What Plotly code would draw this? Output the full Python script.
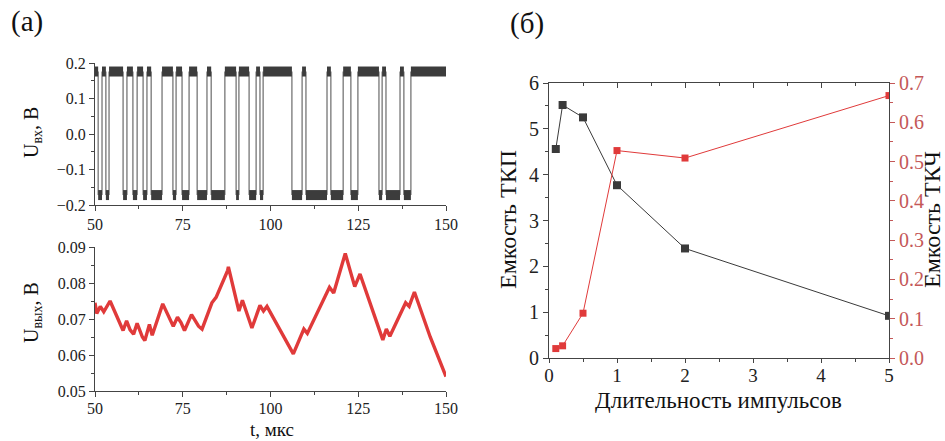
import plotly.graph_objects as go

# ---------------- data ----------------
# (a) top: telegraph input signal, switching instants (us), starts in high state
switch_t = [50, 50.9, 52.0, 53.1, 54.0, 58.0, 59.1, 60.8, 62.0, 63.7, 64.8, 66.0,
            69.1, 72.2, 73.1, 74.8, 76.8, 79.1, 81.9, 83.1, 87.0, 90.2, 91.0, 93.9,
            95.9, 97.0, 97.9, 106.1, 109.0, 110.1, 116.1, 117.2, 120.7, 122.9, 124.9,
            130.9, 131.8, 132.9, 136.9, 138.0, 140.0, 150]
level_hi = 0.176
level_lo = -0.172

# (a) bottom: output voltage envelope
out_t = [50, 50.5, 51.5, 52.5, 54.3, 55, 58, 59, 60, 61, 62, 63.5, 64.2, 65.5, 66.3,
         69.3, 72.3, 73.5, 74.5, 75.5, 77.5, 79.5, 80.5, 83.3, 84.5, 87.8, 88, 91, 92,
         94.7, 97, 98, 99, 106.5, 109.5, 110.5, 116.8, 118, 121.3, 124, 125.5, 132,
         133, 134, 138.5, 139.5, 141, 145.5, 150]
out_v = [0.0745, 0.0715, 0.0735, 0.0720, 0.0750, 0.0735, 0.0668, 0.0695, 0.0670, 0.0658,
         0.0688, 0.0650, 0.0640, 0.0685, 0.0655, 0.0742, 0.0680, 0.0705, 0.0690, 0.0668,
         0.0712, 0.0680, 0.0672, 0.0745, 0.0760, 0.0835, 0.0845, 0.0722, 0.0752, 0.0675,
         0.0738, 0.0722, 0.0735, 0.0603, 0.0672, 0.0660, 0.0788, 0.0772, 0.0882, 0.0790,
         0.0825, 0.0642, 0.0672, 0.0652, 0.0745, 0.0735, 0.0775, 0.0650, 0.0540]

# (б)
pulse_len = [0.1, 0.2, 0.5, 1, 2, 5]
cap_tkp = [4.56, 5.52, 5.25, 3.77, 2.39, 0.92]
cap_tkch = [0.024, 0.031, 0.114, 0.528, 0.509, 0.668]

# ---------------- build telegraph traces ----------------
hx, hy, vx, vy = [], [], [], []
for i in range(len(switch_t) - 1):
    lvl = level_hi if i % 2 == 0 else level_lo
    hx += [switch_t[i], switch_t[i + 1], None]
    hy += [lvl, lvl, None]
    if i > 0:
        vx += [switch_t[i], switch_t[i], None]
        vy += [level_hi, level_lo, None]

SERIF = "Liberation Serif"
AX = "#444444"
RED = "#e03a3a"
RED_T = "#c45858"

fig = go.Figure()
fig.add_trace(go.Scatter(x=vx, y=vy, mode="lines", line=dict(color="#6a6a6a", width=1.2),
                         xaxis="x", yaxis="y", showlegend=False, hoverinfo="skip"))
fig.add_trace(go.Scatter(x=hx, y=hy, mode="lines", line=dict(color="#3c3c3c", width=10),
                         xaxis="x", yaxis="y", showlegend=False))
fig.add_trace(go.Scatter(x=out_t, y=out_v, mode="lines", line=dict(color=RED, width=3.4),
                         xaxis="x2", yaxis="y2", showlegend=False))
fig.add_trace(go.Scatter(x=pulse_len, y=cap_tkp, mode="lines+markers",
                         line=dict(color="#3a3a3a", width=1),
                         marker=dict(symbol="square", size=8, color="#3a3a3a"),
                         xaxis="x3", yaxis="y3", showlegend=False))
fig.add_trace(go.Scatter(x=pulse_len, y=cap_tkch, mode="lines+markers",
                         line=dict(color=RED, width=1),
                         marker=dict(symbol="square", size=7, color=RED),
                         xaxis="x3", yaxis="y4", showlegend=False))
fig.add_trace(go.Scatter(x=[None], y=[None], xaxis="x4", yaxis="y3", showlegend=False))

tickfont_l = dict(family=SERIF, size=16, color="#222")
tickfont_r = dict(family=SERIF, size=20, color="#222")

def lax(**kw):
    d = dict(showline=True, linecolor=AX, linewidth=1.2, ticks="outside", ticklen=5,
             tickcolor=AX, showgrid=False, zeroline=False, automargin=False)
    d.update(kw)
    return d

W, H = 945, 441
xl0, xl1 = 95 / W, 446 / W

fig.update_layout(
    width=W, height=H, margin=dict(l=0, r=0, t=0, b=0, pad=0), autosize=False,
    paper_bgcolor="white", plot_bgcolor="white",
    xaxis=lax(domain=[xl0, xl1], anchor="y", range=[50, 150], tickvals=[50, 75, 100, 125, 150],
              tickfont=tickfont_l, minor=dict(ticks="outside", ticklen=3, dtick=12.5, tick0=50, tickcolor=AX)),
    yaxis=lax(domain=[1 - 205 / H, 1 - 63 / H], anchor="x", range=[-0.2, 0.2], dtick=0.1,
              tickformat=".1f", tickfont=tickfont_l,
              minor=dict(ticks="outside", ticklen=3, dtick=0.05, tickcolor=AX)),
    xaxis2=lax(domain=[xl0, xl1], anchor="y2", range=[50, 150], tickvals=[50, 75, 100, 125, 150],
               ticklabelstandoff=-2,
               tickfont=tickfont_l, minor=dict(ticks="outside", ticklen=3, dtick=12.5, tick0=50, tickcolor=AX)),
    yaxis2=lax(domain=[1 - 391 / H, 1 - 247 / H], anchor="x2", range=[0.05, 0.09], dtick=0.01,
               tickformat=".2f", tickfont=tickfont_l,
               minor=dict(ticks="outside", ticklen=3, dtick=0.005, tickcolor=AX)),
    xaxis3=lax(domain=[549 / W, 889 / W], anchor="y3", range=[0, 5], dtick=1, mirror=True,
               ticklen=4, ticklabelstandoff=-4,
               tickfont=dict(family=SERIF, size=19, color="#222"),
               minor=dict(ticks="outside", ticklen=3, dtick=0.5, tickcolor=AX)),
    xaxis4=dict(domain=[549 / W, 889 / W], anchor="y3", overlaying="x3", side="top", range=[0, 5],
                dtick=1, ticks="inside", ticklen=5, tickcolor=AX, showticklabels=False,
                showline=False, showgrid=False, zeroline=False, automargin=False,
                minor=dict(ticks="inside", ticklen=3, dtick=0.5, tickcolor=AX)),
    yaxis3=lax(domain=[1 - 358 / H, 1 - 83 / H], anchor="x3", range=[0, 6], dtick=1,
               tickfont=tickfont_r, minor=dict(ticks="outside", ticklen=3, dtick=0.5, tickcolor=AX)),
    yaxis4=lax(domain=[1 - 358 / H, 1 - 83 / H], anchor="x3", overlaying="y3", side="right",
               range=[0, 0.7], dtick=0.1, tickformat=".1f", tickcolor=RED_T,
               tickfont=dict(family=SERIF, size=20, color=RED_T),
               minor=dict(ticks="outside", ticklen=3, dtick=0.05, tickcolor=RED_T)),
)

def ann(text, x, y, size, angle=0):
    fig.add_annotation(text=text, x=x / W, y=1 - y / H, xref="paper", yref="paper",
                       showarrow=False, textangle=angle, xanchor="center", yanchor="middle",
                       font=dict(family=SERIF, size=size, color="#111"))

ann("(a)", 27, 22, 29)
ann("(б)", 527, 24, 29)
ann("U<sub>вх</sub>, В", 32, 133, 20, -90)
ann("U<sub>вых</sub>, В", 32, 313, 20, -90)
ann("t, мкс", 272, 429, 19)
ann("Длительность импульсов", 718, 400, 23)
ann("Емкость ТКП", 508, 220, 24, -90)
ann("Емкость ТКЧ", 932, 220, 24, -90)

fig.write_html("out.html")
